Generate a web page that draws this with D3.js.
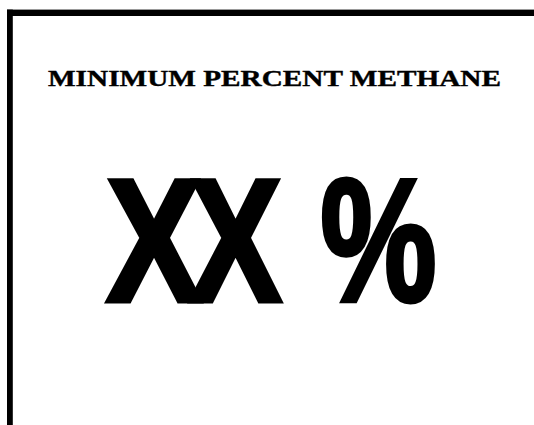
<!DOCTYPE html>
<html>
<head>
<meta charset="utf-8">
<script src="https://cdn.jsdelivr.net/npm/d3@7"></script>
<style>
  body { margin: 0; background: #fff; }
</style>
</head>
<body>
<div class="sign-wrapper"></div>
<script>
var width = 534, height = 425;

// sign content
var titleText = "MINIMUM PERCENT METHANE";
var valueGlyphs = ["X", "X", "%"];

var svg = d3.select(".sign-wrapper").append("svg")
  .attr("width", width)
  .attr("height", height);

svg.append("rect")
  .attr("width", width)
  .attr("height", height)
  .attr("fill", "#fff");

// frame: thick black line along the top and left edge
svg.append("rect")
  .attr("x", 7).attr("y", 9.6)
  .attr("width", width - 7).attr("height", 6.4)
  .attr("fill", "#000");
svg.append("rect")
  .attr("x", 7).attr("y", 9.6)
  .attr("width", 5.8).attr("height", height - 9.6)
  .attr("fill", "#000");

// title, stretched to the width it has on the sign
svg.append("text")
  .attr("x", 48)
  .attr("y", 86)
  .attr("font-family", "'Liberation Serif', 'Times New Roman', serif")
  .attr("font-weight", "bold")
  .attr("font-size", 24)
  .attr("stroke", "#000")
  .attr("stroke-width", 0.4)
  .attr("textLength", 453)
  .attr("lengthAdjust", "spacingAndGlyphs")
  .text(titleText);

// the big value, one glyph per text so each can be sized on its own
var sw = 5;
var glyphX = d3.scaleOrdinal()
  .domain(d3.range(valueGlyphs.length))
  .range([104, 187, 318]);
var glyphW = d3.scaleOrdinal()
  .domain(d3.range(valueGlyphs.length))
  .range([100, 97, 121]);

svg.selectAll("text.glyph")
  .data(valueGlyphs)
  .join("text")
  .attr("class", "glyph")
  .attr("x", function (d, i) { return glyphX(i) + sw / 2; })
  .attr("y", 303 - sw / 2)
  .attr("font-family", "'Liberation Sans Narrow', 'Liberation Sans', Arial, sans-serif")
  .attr("font-weight", "bold")
  .attr("font-size", 175)
  .attr("stroke", "#000")
  .attr("stroke-width", sw)
  .attr("stroke-linejoin", "miter")
  .attr("textLength", function (d, i) { return glyphW(i) - sw; })
  .attr("lengthAdjust", "spacingAndGlyphs")
  .text(function (d) { return d; });
</script>
</body>
</html>
